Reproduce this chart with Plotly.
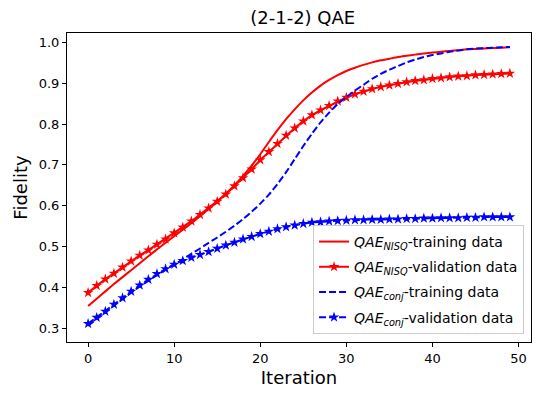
import plotly.graph_objects as go

iterations = list(range(50))

nisq_train = [0.354, 0.372, 0.390, 0.408, 0.425, 0.442, 0.459, 0.476, 0.493, 0.509,
              0.525, 0.541, 0.557, 0.574, 0.592, 0.610, 0.629, 0.650, 0.673, 0.698,
              0.726, 0.756, 0.785, 0.812, 0.836, 0.858, 0.877, 0.894, 0.908, 0.920,
              0.930, 0.938, 0.945, 0.951, 0.956, 0.960, 0.964, 0.967, 0.970, 0.973,
              0.975, 0.977, 0.979, 0.981, 0.983, 0.984, 0.985, 0.986, 0.987, 0.988]

nisq_val = [0.387, 0.404, 0.420, 0.434, 0.449, 0.464, 0.478, 0.491, 0.505, 0.518,
            0.533, 0.547, 0.562, 0.578, 0.594, 0.610, 0.628, 0.648, 0.668, 0.689,
            0.712, 0.732, 0.752, 0.772, 0.790, 0.807, 0.822, 0.834, 0.845, 0.856,
            0.865, 0.873, 0.880, 0.886, 0.891, 0.895, 0.899, 0.903, 0.906, 0.908,
            0.911, 0.913, 0.915, 0.917, 0.918, 0.920, 0.921, 0.922, 0.923, 0.924]

conj_train = [0.306, 0.322, 0.338, 0.355, 0.371, 0.387, 0.402, 0.416, 0.430, 0.443,
              0.456, 0.468, 0.482, 0.495, 0.509, 0.522, 0.536, 0.551, 0.567, 0.585,
              0.605, 0.627, 0.653, 0.682, 0.714, 0.746, 0.776, 0.804, 0.828, 0.849,
              0.866, 0.882, 0.896, 0.911, 0.923, 0.933, 0.942, 0.951, 0.958, 0.964,
              0.969, 0.973, 0.977, 0.980, 0.983, 0.985, 0.986, 0.987, 0.988, 0.989]

conj_val = [0.311, 0.326, 0.341, 0.358, 0.374, 0.390, 0.405, 0.419, 0.433, 0.445,
            0.456, 0.465, 0.473, 0.480, 0.487, 0.495, 0.503, 0.510, 0.518, 0.524,
            0.531, 0.537, 0.543, 0.548, 0.552, 0.556, 0.559, 0.560, 0.562, 0.563,
            0.564, 0.565, 0.565, 0.566, 0.566, 0.567, 0.567, 0.568, 0.568, 0.569,
            0.569, 0.570, 0.570, 0.570, 0.571, 0.571, 0.572, 0.572, 0.572, 0.572]

x_ticks = [0, 10, 20, 30, 40, 50]
y_ticks = [0.3, 0.4, 0.5, 0.6, 0.7, 0.8, 0.9, 1.0]

font = 'DejaVu Sans'

fig = go.Figure()

fig.add_trace(go.Scatter(
    x=iterations, y=nisq_train, mode='lines', legendgroup='a',
    name='<i>QAE</i><sub><i>NISQ</i></sub>-training data',
    line=dict(color='red', width=2, shape='spline', smoothing=0.6)
))
fig.add_trace(go.Scatter(
    x=iterations, y=nisq_val, mode='lines+markers', legendgroup='b',
    name='<i>QAE</i><sub><i>NISQ</i></sub>-validation data',
    line=dict(color='red', width=2),
    marker=dict(symbol='star', size=8, color='red')
))
fig.add_trace(go.Scatter(
    x=iterations, y=conj_train, mode='lines', legendgroup='c',
    name='<i>QAE</i><sub><i>conj</i></sub>-training data',
    line=dict(color='blue', width=2, dash='7px,3px', shape='spline', smoothing=0.6)
))
fig.add_trace(go.Scatter(
    x=iterations, y=conj_val, mode='lines+markers', legendgroup='d',
    name='<i>QAE</i><sub><i>conj</i></sub>-validation data',
    line=dict(color='blue', width=2, dash='7px,3px'),
    marker=dict(symbol='star', size=8, color='blue')
))

axis_style = dict(
    showline=True, linecolor='black', linewidth=1, mirror=True,
    ticks='outside', ticklen=4, tickcolor='black',
    showgrid=False, zeroline=False, automargin=False,
    tickfont=dict(family=font, size=13, color='black'),
)

fig.update_xaxes(
    range=[-2.45, 51.45], tickvals=x_ticks,
    title=dict(text='Iteration', font=dict(family=font, size=18, color='black'), standoff=6),
    **axis_style
)
fig.update_yaxes(
    range=[0.266, 1.023], tickvals=y_ticks, tickformat='.1f',
    title=dict(text='Fidelity', font=dict(family=font, size=18, color='black'), standoff=6),
    **axis_style
)

# the page adds an 8px body margin, so the figure is sized to fit inside it
fig.update_layout(
    width=533, height=391,
    margin=dict(l=59, r=10, t=25, b=57),
    paper_bgcolor='white', plot_bgcolor='white',
    title=dict(text='(2-1-2) QAE', x=0.553, xanchor='center', y=0.974, yanchor='middle',
               font=dict(family=font, size=18, color='black')),
    font=dict(family=font, color='black'),
    showlegend=True,
    legend=dict(
        x=0.985, y=0.026, xanchor='right', yanchor='bottom',
        bgcolor='rgba(255,255,255,0.8)', bordercolor='#cccccc', borderwidth=1,
        font=dict(family=font, size=14, color='black'),
        tracegroupgap=4, itemwidth=30
    )
)

fig.write_html("out.html")
